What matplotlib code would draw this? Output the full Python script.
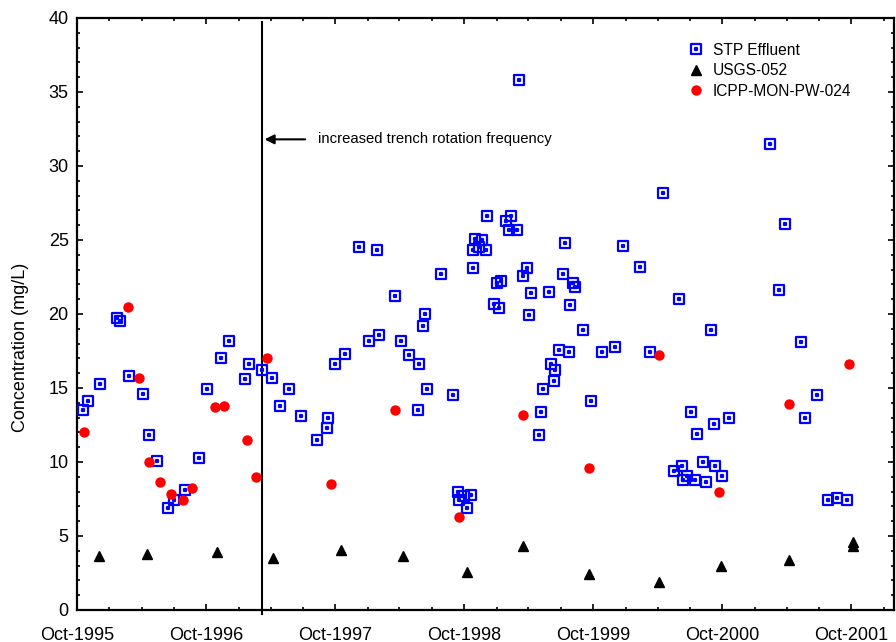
import matplotlib
matplotlib.use("Agg")
import matplotlib.pyplot as plt
import matplotlib.dates as mdates
from matplotlib.path import Path
import numpy as np
import pandas as pd

plt.rcParams['font.family'] = ['Liberation Sans', 'DejaVu Sans']

# ---- data -------------------------------------------------------------
stp_dates = [
    '1995-10-18', '1995-11-01', '1995-12-05', '1996-01-22', '1996-01-31',
    '1996-02-25', '1996-04-05', '1996-04-22', '1996-05-14', '1996-06-15',
    '1996-07-02', '1996-08-02', '1996-09-10', '1996-10-03', '1996-11-12',
    '1996-12-04', '1997-01-19', '1997-01-30', '1997-03-08', '1997-04-05',
    '1997-04-28', '1997-05-23', '1997-06-26', '1997-08-10', '1997-09-08',
    '1997-09-10', '1997-10-01', '1997-10-29', '1997-12-07', '1998-01-05',
    '1998-01-27', '1998-02-02', '1998-03-19', '1998-04-05', '1998-04-28',
    '1998-05-23', '1998-05-26', '1998-06-06', '1998-06-12', '1998-06-18',
    '1998-07-27', '1998-08-30', '1998-09-14', '1998-09-16', '1998-10-01',
    '1998-10-09', '1998-10-20', '1998-10-26', '1998-10-27', '1998-11-01',
    '1998-11-12', '1998-11-21', '1998-12-02', '1998-12-05', '1998-12-25',
    '1999-01-02', '1999-01-08', '1999-01-13', '1999-01-27', '1999-02-05',
    '1999-02-11', '1999-02-28', '1999-03-05', '1999-03-17', '1999-03-28',
    '1999-04-03', '1999-04-08', '1999-05-01', '1999-05-07', '1999-05-12',
    '1999-05-29', '1999-06-04', '1999-06-12', '1999-06-15', '1999-06-27',
    '1999-07-08', '1999-07-14', '1999-07-25', '1999-07-28', '1999-08-05',
    '1999-08-11', '1999-09-02', '1999-09-25', '1999-10-26', '1999-12-02',
    '1999-12-25', '2000-02-11', '2000-03-10', '2000-04-16', '2000-05-17',
    '2000-05-31', '2000-06-09', '2000-06-12', '2000-06-23', '2000-07-04',
    '2000-07-16', '2000-07-21', '2000-08-07', '2000-08-16', '2000-08-30',
    '2000-09-07', '2000-09-10', '2000-09-30', '2000-10-20', '2001-02-13',
    '2001-03-10', '2001-03-27', '2001-05-12', '2001-05-23', '2001-06-26',
    '2001-07-27', '2001-08-22', '2001-09-19',
]
stp_values = [
    13.5, 14.1, 15.3, 19.7, 19.5,
    15.8, 14.6, 11.8, 10.1, 6.9,
    7.4, 8.1, 10.3, 14.9, 17.0,
    18.2, 15.6, 16.6, 16.2, 15.7,
    13.8, 14.9, 13.1, 11.5, 12.3,
    13.0, 16.6, 17.3, 24.5, 18.2,
    24.3, 18.6, 21.2, 18.2, 17.2,
    13.5, 16.6, 19.2, 20.0, 14.9,
    22.7, 14.5, 8.0, 7.4, 7.7,
    6.9, 7.8, 23.1, 24.3, 25.1,
    24.5, 25.0, 24.3, 26.6, 20.7,
    22.1, 20.4, 22.2, 26.3, 25.7,
    26.6, 25.7, 35.8, 22.6, 23.1,
    19.9, 21.4, 11.8, 13.4, 14.9,
    21.5, 16.6, 15.5, 16.2, 17.6,
    22.7, 24.8, 17.4, 20.6, 22.1,
    21.8, 18.9, 14.1, 17.4, 17.8,
    24.6, 23.2, 17.4, 28.2, 9.4,
    21.0, 9.7, 8.8, 9.05, 13.4,
    8.8, 11.9, 10.0, 8.65, 18.9,
    12.6, 9.7, 9.05, 13.0, 31.5,
    21.6, 26.1, 18.1, 13.0, 14.5,
    7.4, 7.6, 7.4,
]

usgs_dates = [
    '1995-12-02', '1996-04-16', '1996-10-31', '1997-04-08', '1997-10-17',
    '1998-04-11', '1998-10-09', '1999-03-17', '1999-09-19', '2000-04-05',
    '2000-09-27', '2001-04-08', '2001-10-06', '2001-10-06',
]
usgs_values = [
    3.65, 3.8, 3.9, 3.5, 4.05,
    3.65, 2.57, 4.3, 2.43, 1.9,
    2.95, 3.4, 4.6, 4.3,
]

icpp_dates = [
    '1995-10-21', '1996-02-22', '1996-03-25', '1996-04-22', '1996-05-23',
    '1996-06-23', '1996-07-27', '1996-08-22', '1996-10-26', '1996-11-20',
    '1997-01-24', '1997-02-19', '1997-03-22', '1997-09-19', '1998-03-19',
    '1998-09-16', '1999-03-17', '1999-09-19', '2000-04-05', '2000-09-21',
    '2001-04-08', '2001-09-25',
]
icpp_values = [
    12.0, 20.5, 15.7, 10.0, 8.65,
    7.85, 7.4, 8.25, 13.7, 13.8,
    11.5, 9.0, 17.0, 8.5, 13.5,
    6.3, 13.2, 9.6, 17.2, 8.0,
    13.9, 16.6,
]

rotation_change = '1997-03-09'
annotation_text = 'increased trench rotation frequency'

# ---- figure -------------------------------------------------------------
fig = plt.figure(figsize=(8.96, 6.42), dpi=100)
ax = fig.add_axes([77 / 896, 1 - 610 / 642, (894 - 77) / 896, (610 - 18) / 642])

# square marker with a small dot in the middle
outer = [(-1, -1), (1, -1), (1, 1), (-1, 1), (-1, -1)]
d = 0.2
inner = [(-d, -d), (d, -d), (d, d), (-d, d), (-d, -d)]
codes = [Path.MOVETO, Path.LINETO, Path.LINETO, Path.LINETO, Path.CLOSEPOLY]
dot_square = Path(outer + inner, codes + codes)

ax.plot(pd.to_datetime(stp_dates), stp_values, linestyle='none',
        marker=dot_square, markersize=7, markerfacecolor='none',
        markeredgecolor='#0000ff', markeredgewidth=1.6, label='STP Effluent',
        zorder=3)
ax.plot(pd.to_datetime(usgs_dates), usgs_values, linestyle='none',
        marker='^', markersize=7, color='black', label='USGS-052', zorder=3)
ax.plot(pd.to_datetime(icpp_dates), icpp_values, linestyle='none',
        marker='o', markersize=7.5, color='#ff0000', markeredgewidth=0,
        label='ICPP-MON-PW-024', zorder=3)

# vertical marker line and annotation
vx = pd.Timestamp(rotation_change)
ax.plot([vx, vx], [-0.25, 39.75], color='black', lw=1.5, clip_on=False, zorder=2)
ax.annotate('', xy=(pd.Timestamp('1997-03-15'), 31.8),
            xytext=(pd.Timestamp('1997-07-08'), 31.8),
            arrowprops=dict(arrowstyle='-|>', color='black', lw=1.5,
                            mutation_scale=14, shrinkA=0, shrinkB=0))
ax.text(pd.Timestamp('1997-08-12'), 31.8, annotation_text,
        fontsize=10.7, va='center', ha='left')

# axes
ax.set_ylim(0, 40)
ax.set_xlim(pd.Timestamp('1995-10-01'), pd.Timestamp('2002-01-30'))
ax.set_yticks(np.arange(0, 41, 5))
ax.yaxis.set_minor_locator(matplotlib.ticker.MultipleLocator(1))
ax.xaxis.set_major_locator(mdates.MonthLocator(bymonth=[10]))
ax.xaxis.set_minor_locator(mdates.MonthLocator(bymonth=[1, 4, 7]))
ax.xaxis.set_major_formatter(mdates.DateFormatter('%b-%Y'))

for s in ax.spines.values():
    s.set_linewidth(1.6)
ax.tick_params(which='both', direction='in', top=True, right=True,
               labelsize=13, width=1.2)
ax.tick_params(which='major', length=4.5)
ax.tick_params(which='minor', length=2.5)
ax.tick_params(axis='y', which='major', pad=6)
ax.tick_params(axis='x', which='major', pad=12)

ax.set_ylabel('Concentration (mg/L)', fontsize=13)
ax.yaxis.set_label_coords(-(77 - 29) / 817, (610 - 347) / 592)

leg = ax.legend(loc='upper left', bbox_to_anchor=((680 - 77) / 817, (610 - 35) / 592),
                frameon=False, fontsize=11.2, handlelength=1.0,
                handletextpad=0.6, labelspacing=0.35, borderpad=0)

fig.savefig('out.png', dpi=100)
